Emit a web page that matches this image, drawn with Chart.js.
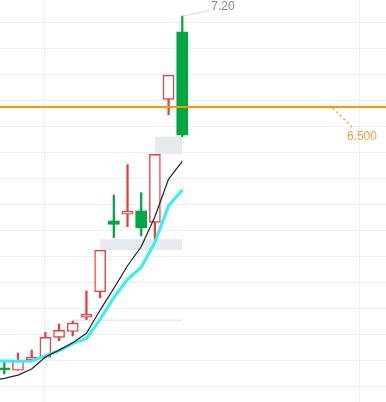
<!DOCTYPE html>
<html>
<head>
<meta charset="utf-8">
<title>K線</title>
<script src="https://cdn.jsdelivr.net/npm/chart.js@4.4.1/dist/chart.umd.min.js"></script>
<style>
    html, body { margin: 0; padding: 0; background: #fff; }
    #wrap { width: 386px; height: 402px; }
</style>
</head>
<body>
<div id="wrap"><canvas id="kline"></canvas></div>
<script>
// 日K 資料，index 0..13
const opens  = [4.483, 4.475, 4.556, 4.575, 4.728, 4.773, 4.883, 5.079, 5.623, 5.675, 5.700, 5.613, 6.559, 7.077];
const highs  = [4.541, 4.608, 4.631, 4.767, 4.831, 4.854, 5.085, 5.398, 5.823, 6.056, 5.841, 6.136, 6.744, 7.200];
const lows   = [4.446, 4.475, 4.541, 4.575, 4.702, 4.738, 4.865, 5.033, 5.495, 5.579, 5.508, 5.482, 6.441, 6.272];
const closes = [4.480, 4.546, 4.575, 4.728, 4.782, 4.838, 4.905, 5.398, 5.598, 5.700, 5.572, 6.136, 6.744, 6.285];

// 均線，第一個值是畫面左邊外面那一天 (index -1)
const maIndex = [-1, 0, 1, 2, 3, 4, 5, 6, 7, 8, 9, 10, 11, 12, 13];
const ma5  = [4.392, 4.413, 4.438, 4.485, 4.577, 4.630, 4.687, 4.759, 4.938, 5.105, 5.279, 5.425, 5.656, 5.946, 6.082];
const ma10 = [4.546, 4.546, 4.545, 4.547, 4.585, 4.625, 4.682, 4.720, 4.867, 5.033, 5.174, 5.267, 5.459, 5.740, 5.861];

// 未補的缺口：起始K、結束K、下緣、上緣
const gapFrom = [5, 7, 11];
const gapTo   = [13, 13, 13];
const gapLow  = [4.854, 5.398, 6.136];
const gapHigh = [4.865, 5.482, 6.272];

// 警示價
const alertPrice = 6.5;

// 格線位置
const yGridAt = [4.35, 4.55, 4.75, 4.95, 5.15, 5.35, 5.55, 5.75, 5.95, 6.15, 6.35, 6.55, 6.75, 6.95, 7.15];
const xGridAt = [2.97, 25.93];
const xRange = [-0.314, 27.88];
const yRange = [4.2308, 7.3231];

const RED = "#ec3c3c";
const GREEN = "#00a843";

document.addEventListener("DOMContentLoaded", () => {
    const idx = opens.map((_, i) => i);
    const isUp = idx.map(i => closes[i] >= opens[i]);

    const datasets = [];

    // 缺口灰框 (放最底)
    gapFrom.forEach((from, k) => {
        datasets.push({
            type: "line",
            data: [{ x: from, y: gapHigh[k] }, { x: gapTo[k], y: gapHigh[k] }],
            borderWidth: 0,
            pointRadius: 0,
            backgroundColor: "#e6e9ee",
            fill: { value: gapLow[k] },
            order: 20
        });
    });

    // 影線
    datasets.push({
        type: "bar",
        data: idx.map(i => ({ x: i, y: [lows[i], highs[i]] })),
        backgroundColor: idx.map(i => isUp[i] ? RED : GREEN),
        borderWidth: 0,
        barThickness: 1.6,
        grouped: false,
        order: 12
    });

    // 實體
    datasets.push({
        type: "bar",
        data: idx.map(i => ({ x: i, y: [opens[i], closes[i]] })),
        backgroundColor: idx.map(i => isUp[i] ? "#ffffff" : GREEN),
        borderColor: idx.map(i => isUp[i] ? RED : GREEN),
        borderWidth: idx.map(i => isUp[i] ? 1.4 : 0),
        borderSkipped: false,
        barThickness: 11,
        minBarLength: 1.5,
        grouped: false,
        order: 11
    });

    // 均線
    datasets.push({
        type: "line",
        data: maIndex.map((x, i) => ({ x: x, y: ma10[i] })),
        borderColor: "#2ef2f4",
        borderWidth: 3,
        pointRadius: 0,
        tension: 0,
        order: 4
    });
    datasets.push({
        type: "line",
        data: maIndex.map((x, i) => ({ x: x, y: ma5[i] })),
        borderColor: "#222222",
        borderWidth: 1.2,
        pointRadius: 0,
        tension: 0,
        order: 3
    });

    // 警示價線
    datasets.push({
        type: "line",
        data: [{ x: xRange[0], y: alertPrice }, { x: xRange[1], y: alertPrice }],
        borderColor: "#ff9900",
        borderWidth: 2,
        pointRadius: 0,
        order: 2
    });

    const priceTags = {
        id: "priceTags",
        afterDatasetsDraw(chart) {
            const { ctx, scales: { x, y } } = chart;
            const hi = Math.max(...highs);
            const hiIdx = highs.indexOf(hi);
            const hx = x.getPixelForValue(hiIdx);
            const hy = y.getPixelForValue(hi);

            ctx.save();
            ctx.font = '12px "Liberation Sans", Arial, sans-serif';
            ctx.textBaseline = "middle";

            // 最高價標籤
            ctx.strokeStyle = "#d6dae1";
            ctx.lineWidth = 1;
            ctx.beginPath();
            ctx.moveTo(hx, hy);
            ctx.lineTo(hx + 28, hy - 5.5);
            ctx.stroke();
            ctx.fillStyle = "#7f8794";
            ctx.fillText(hi.toFixed(2), hx + 29, hy - 9);

            // 警示價標籤
            const ax = x.getPixelForValue(24);
            const ay = y.getPixelForValue(alertPrice);
            ctx.strokeStyle = "#ff9a3d";
            ctx.lineWidth = 1.5;
            ctx.setLineDash([2, 3]);
            ctx.beginPath();
            ctx.moveTo(ax, ay + 1);
            ctx.lineTo(ax + 20, ay + 21);
            ctx.stroke();
            ctx.setLineDash([]);
            ctx.fillStyle = "#ff9a3d";
            ctx.fillText(alertPrice.toFixed(3), ax + 14, ay + 29.5);
            ctx.restore();
        }
    };

    const gridOpts = { color: "#edf0f4", lineWidth: 1, drawTicks: false, offset: false };

    new Chart(document.getElementById("kline"), {
        type: "bar",
        data: { datasets: datasets },
        options: {
            responsive: true,
            maintainAspectRatio: false,
            animation: false,
            layout: { padding: 0 },
            plugins: {
                legend: { display: false },
                tooltip: { enabled: false }
            },
            scales: {
                x: {
                    type: "linear",
                    min: xRange[0],
                    max: xRange[1],
                    offset: false,
                    border: { display: false },
                    grid: gridOpts,
                    ticks: { display: false },
                    afterBuildTicks: s => { s.ticks = xGridAt.map(v => ({ value: v })); }
                },
                y: {
                    type: "linear",
                    min: yRange[0],
                    max: yRange[1],
                    border: { display: false },
                    grid: gridOpts,
                    ticks: { display: false },
                    afterBuildTicks: s => { s.ticks = yGridAt.map(v => ({ value: v })); }
                }
            }
        },
        plugins: [priceTags]
    });
});
</script>
</body>
</html>
